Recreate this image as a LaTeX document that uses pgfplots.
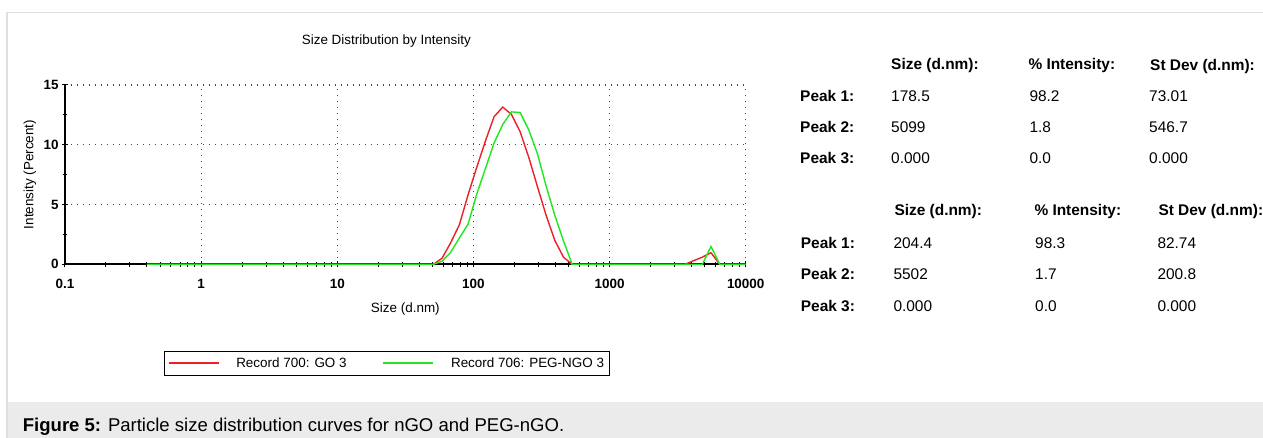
\documentclass[border=0pt]{standalone}
\usepackage{fontspec}
\setmainfont{Liberation Sans}
\usepackage{pgfplots}
\usepackage{pgfplotstable}
\pgfplotsset{compat=1.18}

\definecolor{gocol}{RGB}{236,32,38}
\definecolor{pegcol}{RGB}{34,230,34}
\definecolor{panelrule}{RGB}{222,222,222}
\definecolor{capband}{RGB}{235,235,235}
\definecolor{gridgray}{RGB}{70,70,70}

% Intensity distribution, record 700 (GO 3)
\pgfplotstableread{
size intensity
0.4 0
50.75 0
58.77 0.5
68.06 1.8
78.82 3.3
91.28 5.8
105.7 8.1
122.4 10.3
141.8 12.35
164.2 13.15
190.1 12.55
220.2 11.1
255.0 8.95
295.3 6.5
342.0 4.1
396.1 2.0
458.7 0.6
531.2 0
3580 0
4145 0.3
4801 0.6
5560 0.97
6439 0
10000 0
}\goTable

% Intensity distribution, record 706 (PEG-NGO 3)
\pgfplotstableread{
size intensity
0.4 0
50.75 0
58.77 0.25
68.06 1.0
78.82 2.2
91.28 3.35
105.7 5.85
122.4 8.0
141.8 10.15
164.2 11.7
190.1 12.75
220.2 12.7
255.0 11.25
295.3 9.25
342.0 6.55
396.1 4.1
458.7 1.96
531.2 0
4801 0
5560 1.5
6439 0
10000 0
}\pegTable

\newcommand{\axfont}{\fontsize{13.5}{15}\selectfont}
\newcommand{\legfont}{\fontsize{13.5}{15}\selectfont}
\newcommand{\tabfont}{\fontsize{15.5}{18}\selectfont}

\begin{document}
\begin{tikzpicture}
\useasboundingbox (0,0) rectangle (1263bp,438bp);
\fill[white] (0,0) rectangle (1263bp,438bp);
\fill[capband] (7bp,0) rectangle (1263bp,36.3bp);
\draw[panelrule, line width=1.5bp] (7bp,0) -- (7bp,425.3bp) -- (1263bp,425.3bp);

\begin{axis}[
  scale only axis, width=680.7bp, height=179.3bp,
  anchor=south west, at={(65bp,173.7bp)},
  xmode=log, xmin=0.1, xmax=10000, ymin=0, ymax=15,
  axis x line*=bottom, axis y line*=left,
  axis line style={black, line width=2bp, -},
  xtick={0.1,1,10,100,1000,10000},
  xticklabels={0.1,1,10,100,1000,10000},
  minor xtick={0.2,0.3,0.4,0.5,0.6,0.7,0.8,0.9,2,3,4,5,6,7,8,9,20,30,40,50,60,70,80,90,200,300,400,500,600,700,800,900,2000,3000,4000,5000,6000,7000,8000,9000},
  ytick={0,5,10,15}, yticklabels={0,5,10,15},
  minor ytick={2.5,7.5,12.5},
  tick align=center,
  major tick length=6bp, minor tick length=5bp,
  every tick/.style={black, line width=1bp},
  grid=major,
  major grid style={gridgray, line width=1.2bp, dash pattern=on 1.2bp off 4.8bp},
  ticklabel style={font=\axfont\bfseries},
  xticklabel style={yshift=-8bp},
  title={Size Distribution by Intensity},
  title style={at={(axis description cs:0.472,1.1913)}, anchor=base, font=\axfont},
  xlabel={Size (d.nm)},
  xlabel style={at={(axis description cs:0.5,-0.249)}, anchor=center, font=\axfont},
  ylabel={Intensity (Percent)},
  ylabel style={at={(axis description cs:-0.0514,0.5)}, anchor=center, font=\axfont},
  legend columns=2,
  legend style={at={(axis description cs:0.1454,-0.4808)}, anchor=north west,
    draw=black, line width=0.8bp, fill=white, font=\legfont,
    inner xsep=3.5bp, inner ysep=4.5bp,
    /tikz/every odd column/.append style={column sep=15bp},
    /tikz/every even column/.append style={column sep=34bp}},
  legend image code/.code={\draw[#1] (0bp,0bp) -- (50bp,0bp);},
]
\addplot[gocol, line width=1.4bp] table[x=size, y=intensity] {\goTable};
\addlegendentry{Record 700: GO 3}
\addplot[pegcol, line width=1.4bp] table[x=size, y=intensity] {\pegTable};
\addlegendentry{Record 706: PEG-NGO 3}
\end{axis}

% peak summary, record 700
\begin{scope}[every node/.style={anchor=base west, inner sep=0pt, font=\tabfont}]
\node[font=\tabfont\bfseries] at (891bp,368bp) {Size (d.nm):};
\node[font=\tabfont\bfseries] at (1028.3bp,368.5bp) {\% Intensity:};
\node[font=\tabfont\bfseries] at (1150bp,367.3bp) {St Dev (d.nm):};
\node[font=\tabfont\bfseries] at (800bp,336.3bp) {Peak 1:};
\node at (891bp,336.3bp) {178.5};
\node at (1029.3bp,336.3bp) {98.2};
\node at (1149bp,336.3bp) {73.01};
\node[font=\tabfont\bfseries] at (800bp,305.3bp) {Peak 2:};
\node at (891bp,305.3bp) {5099};
\node at (1029.3bp,305.3bp) {1.8};
\node at (1149bp,305.3bp) {546.7};
\node[font=\tabfont\bfseries] at (800bp,274bp) {Peak 3:};
\node at (891bp,274bp) {0.000};
\node at (1029.3bp,274bp) {0.0};
\node at (1149bp,274bp) {0.000};
% peak summary, record 706
\node[font=\tabfont\bfseries] at (894.3bp,222bp) {Size (d.nm):};
\node[font=\tabfont\bfseries] at (1034.3bp,222bp) {\% Intensity:};
\node[font=\tabfont\bfseries] at (1158.3bp,222bp) {St Dev (d.nm):};
\node[font=\tabfont\bfseries] at (800.7bp,189.7bp) {Peak 1:};
\node at (893.3bp,189.7bp) {204.4};
\node at (1035bp,189.7bp) {98.3};
\node at (1157.3bp,189.7bp) {82.74};
\node[font=\tabfont\bfseries] at (800.7bp,158bp) {Peak 2:};
\node at (893.3bp,158bp) {5502};
\node at (1035bp,158bp) {1.7};
\node at (1157.3bp,158bp) {200.8};
\node[font=\tabfont\bfseries] at (800.7bp,126.3bp) {Peak 3:};
\node at (893.3bp,126.3bp) {0.000};
\node at (1035bp,126.3bp) {0.0};
\node at (1157.3bp,126.3bp) {0.000};
% caption
\node[font=\fontsize{18.6}{20}\selectfont] at (22.7bp,6.3bp) {\textbf{Figure 5:} Particle size distribution curves for nGO and PEG-nGO.};
\end{scope}
\end{tikzpicture}
\end{document}
